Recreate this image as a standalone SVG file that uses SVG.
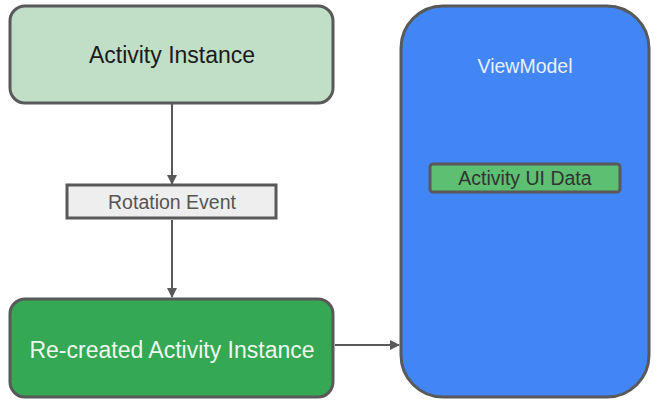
<svg xmlns="http://www.w3.org/2000/svg" width="661" height="406" viewBox="0 0 661 406">
<defs>
<style>
.box{stroke:#595959;stroke-width:3}
.t{font-family:"Liberation Sans",Arial,sans-serif;text-anchor:middle;dominant-baseline:central}
.conn{stroke:#595959;stroke-width:2;fill:none}
</style>
<marker id="ah" markerWidth="10" markerHeight="10" refX="9" refY="5" orient="auto" markerUnits="userSpaceOnUse">
<path d="M0,0 L10,5 L0,10 z" fill="#595959"/>
</marker>
</defs>
<rect width="661" height="406" fill="#ffffff"/>
<g id="connectors">
<line class="conn" x1="172" y1="104" x2="172" y2="184" marker-end="url(#ah)"/>
<line class="conn" x1="172" y1="220" x2="172" y2="297" marker-end="url(#ah)"/>
<line class="conn" x1="335" y1="345" x2="399" y2="345" marker-end="url(#ah)"/>
</g>
<g id="activity">
<rect class="box" x="10" y="6" width="323" height="97" rx="15" fill="#c0dfc6"/>
<text class="t" x="172" y="55" font-size="23" fill="#1a1a1a">Activity Instance</text>
</g>
<g id="rotation">
<rect class="box" x="67" y="185" width="209" height="33" fill="#eeeeee"/>
<text class="t" x="172" y="202" font-size="19.5" fill="#555555">Rotation Event</text>
</g>
<g id="recreated">
<rect class="box" x="10" y="299" width="323" height="98" rx="15" fill="#34a853"/>
<text class="t" x="172" y="350" font-size="23" fill="#eef7ef">Re-created Activity Instance</text>
</g>
<g id="viewmodel">
<rect class="box" x="401" y="6" width="248" height="391" rx="42" fill="#4285f4"/>
<text class="t" x="525" y="66" font-size="19.5" fill="#e8f0fe">ViewModel</text>
</g>
<g id="uidata">
<rect class="box" x="430" y="164" width="190" height="28" rx="3" fill="#5dbf72"/>
<text class="t" x="525" y="178" font-size="19.5" fill="#333333">Activity UI Data</text>
</g>
</svg>
